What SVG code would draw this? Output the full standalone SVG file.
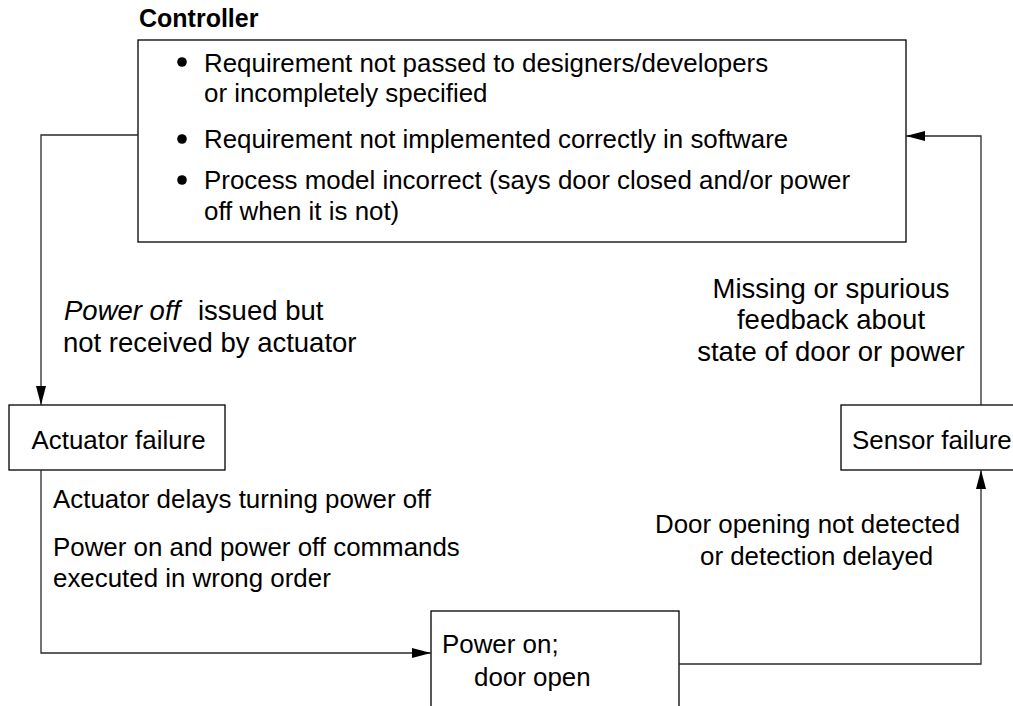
<svg xmlns="http://www.w3.org/2000/svg" width="1013" height="706" viewBox="0 0 1013 706">
<style>
text{font-family:"Liberation Sans",Arial,sans-serif;font-size:25.9px;fill:#000}
.b{font-weight:bold;font-size:25px}
.i{font-style:italic}
.L{font-size:27.5px}
.box{fill:#fff;stroke:#000;stroke-width:1.3}
.c{fill:none;stroke:#2a2a2a;stroke-width:1.3}
.m{text-anchor:middle}
</style>
<defs>
<marker id="ah" markerUnits="userSpaceOnUse" viewBox="0 0 19 10" refX="19" refY="5" markerWidth="19" markerHeight="10" orient="auto">
<path d="M0,0 L19,5 L0,10 z" fill="#000"/>
</marker>
</defs>
<rect width="1013" height="706" fill="#fff"/>
<g id="controller">
<text class="b" x="139" y="27">Controller</text>
<rect class="box" x="138" y="40" width="768" height="202"/>
<circle cx="182" cy="62" r="4.8"/>
<text x="204" y="72">Requirement not passed to designers/developers</text>
<text x="204" y="102">or incompletely specified</text>
<circle cx="182" cy="139" r="4.8"/>
<text x="204" y="148">Requirement not implemented correctly in software</text>
<circle cx="182" cy="180" r="4.8"/>
<text x="204" y="189">Process model incorrect (says door closed and/or power</text>
<text x="204" y="220">off when it is not)</text>
</g>
<g id="actuator">
<rect class="box" x="9" y="405" width="216" height="65"/>
<text x="31.5" y="449">Actuator failure</text>
</g>
<g id="sensor">
<rect class="box" x="841" y="405" width="190" height="65"/>
<text x="852" y="449">Sensor failure</text>
</g>
<g id="process">
<rect class="box" x="431" y="611" width="248" height="110"/>
<text x="442" y="653">Power on;</text>
<text x="474" y="686">door open</text>
</g>
<g id="connectors">
<polyline class="c" points="138,135 41,135 41,405" marker-end="url(#ah)"/>
<polyline class="c" points="41,470 41,653 431,653" marker-end="url(#ah)"/>
<polyline class="c" points="679,664 981,664 981,470" marker-end="url(#ah)"/>
<polyline class="c" points="981,405 981,136 906,136" marker-end="url(#ah)"/>
</g>
<g id="labels">
<text class="L" x="64" y="320"><tspan class="i">Power off</tspan><tspan x="198">issued but</tspan></text>
<text class="L" x="63" y="352">not received by actuator</text>
<text class="L m" x="831" y="298">Missing or spurious</text>
<text class="L m" x="831" y="329">feedback about</text>
<text class="L m" x="831" y="361">state of door or power</text>
<text x="53" y="508">Actuator delays turning power off</text>
<text x="53" y="556">Power on and power off commands</text>
<text x="53" y="587">executed in wrong order</text>
<text x="655" y="533">Door opening not detected</text>
<text x="700" y="565">or detection delayed</text>
</g>
</svg>
